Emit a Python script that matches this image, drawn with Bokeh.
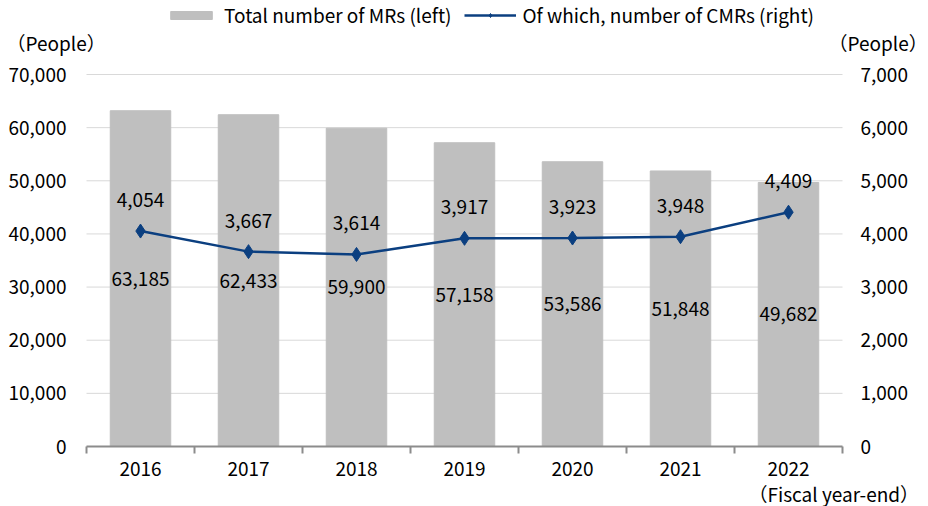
from bokeh.plotting import figure
from bokeh.models import (LinearAxis, Range1d, FixedTicker, NumeralTickFormatter,
                          ColumnDataSource, Legend, LegendItem, Label, LabelSet)
from bokeh.core.properties import value
from bokeh.embed import file_html
from bokeh.resources import INLINE

years = ["2016", "2017", "2018", "2019", "2020", "2021", "2022"]
total_mrs = [63185, 62433, 59900, 57158, 53586, 51848, 49682]
cmrs = [4054, 3667, 3614, 3917, 3923, 3948, 4409]
left_ticks = [0, 10000, 20000, 30000, 40000, 50000, 60000, 70000]
right_ticks = [0, 1000, 2000, 3000, 4000, 5000, 6000, 7000]

FONT = "Noto Sans CJK JP"
FS = "19px"

# page geometry (pixels): plot area inside the canvas
W, H = 928, 506
PX_L, PX_R, PX_T, PX_B = 86, 842, 74, 446
n = len(years)
cat_px = (PX_R - PX_L) / n
ymax_l, ymax_r = left_ticks[-1], right_ticks[-1]
yl_per_px = ymax_l / (PX_B - PX_T)
yr_per_px = ymax_r / (PX_B - PX_T)

x = [i + 0.5 for i in range(n)]
src = ColumnDataSource(dict(
    x=x, total=total_mrs, half=[v / 2 for v in total_mrs], cmr=cmrs,
    total_lbl=[f"{v:,}" for v in total_mrs], cmr_lbl=[f"{v:,}" for v in cmrs]))

p = figure(width=W, height=H, output_backend="svg", toolbar_location=None, title=None,
           x_range=Range1d(-PX_L / cat_px, n + (W - PX_R) / cat_px),
           y_range=Range1d(-(H - PX_B) * yl_per_px, ymax_l + PX_T * yl_per_px),
           min_border=0)
p.outline_line_color = None
p.extra_y_ranges = {"right": Range1d(-(H - PX_B) * yr_per_px, ymax_r + PX_T * yr_per_px)}
p.xgrid.visible = False
p.ygrid.visible = False

# horizontal grid lines over the plotting span only
grid_y = left_ticks[1:]
p.segment(x0=[0] * len(grid_y), x1=[n] * len(grid_y), y0=grid_y, y1=grid_y,
          line_color="#d9d9d9", line_width=1)

bars = p.vbar(x="x", top="total", width=0.56, color="#bfbfbf", source=src)
line = p.line(x="x", y="cmr", y_range_name="right", color="#0b3f80", line_width=2.5, source=src)
pts = p.scatter(x="x", y="cmr", y_range_name="right", marker="diamond", size=14,
                color="#0b3f80", source=src)

p.add_layout(LabelSet(x="x", y="half", text="total_lbl", source=src, text_align="center",
                      text_baseline="middle", text_font=value(FONT), text_font_size=value(FS),
                      text_color="#000000"))
p.add_layout(LabelSet(x="x", y="cmr", y_range_name="right", text="cmr_lbl", source=src,
                      text_align="center", text_baseline="middle", y_offset=31,
                      text_font=value(FONT), text_font_size=value(FS), text_color="#000000"))

# x axis (fixed at y=0, bounded to the categories)
xa = p.xaxis[0]
xa.fixed_location = 0
xa.bounds = (0, n)
xa.ticker = FixedTicker(ticks=x, minor_ticks=list(range(n + 1)))
xa.major_label_overrides = {xi: y for xi, y in zip(x, years)}
xa.major_tick_line_color = None
xa.minor_tick_line_color = "#8c8c8c"
xa.minor_tick_out = 7
xa.minor_tick_in = 0
xa.minor_tick_line_width = 2
xa.axis_line_color = "#8c8c8c"
xa.axis_line_width = 2
xa.major_label_text_font = FONT
xa.major_label_text_font_size = FS
xa.major_label_text_color = "#000000"
xa.major_label_standoff = 8

ya = p.yaxis[0]
ya.fixed_location = 0
ya.bounds = (0, ymax_l)
ya.ticker = FixedTicker(ticks=left_ticks)
ya.formatter = NumeralTickFormatter(format="0,0")
ya.axis_line_color = None
ya.major_tick_line_color = None
ya.minor_tick_line_color = None
ya.major_label_text_font = FONT
ya.major_label_text_font_size = FS
ya.major_label_text_color = "#000000"
ya.major_label_standoff = 14

yr = LinearAxis(y_range_name="right", ticker=FixedTicker(ticks=right_ticks),
                formatter=NumeralTickFormatter(format="0,0"), fixed_location=n,
                bounds=(0, ymax_r))
yr.axis_line_color = None
yr.major_tick_line_color = None
yr.minor_tick_line_color = None
yr.major_label_text_font = FONT
yr.major_label_text_font_size = FS
yr.major_label_text_color = "#000000"
yr.major_label_standoff = 12
p.add_layout(yr, "right")

for txt, xx, yy in [("（People）", 6, H - 42), ("（People）", 828, H - 42),
                    ("（Fiscal year-end）", 748, H - 493)]:
    p.add_layout(Label(x=xx, y=yy, x_units="screen", y_units="screen", text=txt,
                       text_font=FONT, text_font_size=FS, text_color="#000000",
                       text_align="left", text_baseline="middle"))

legend = Legend(items=[LegendItem(label="Total number of MRs (left)", renderers=[bars]),
                       LegendItem(label="Of which, number of CMRs (right)", renderers=[line, pts])],
                orientation="horizontal", location=(165, H - 28), background_fill_alpha=0,
                border_line_color=None, label_text_font=FONT, label_text_font_size=FS,
                label_text_color="#000000", glyph_width=52, glyph_height=10,
                spacing=12, label_standoff=7, padding=0, margin=0)
p.add_layout(legend, "center")

open("out.html", "w").write(file_html(p, INLINE))
